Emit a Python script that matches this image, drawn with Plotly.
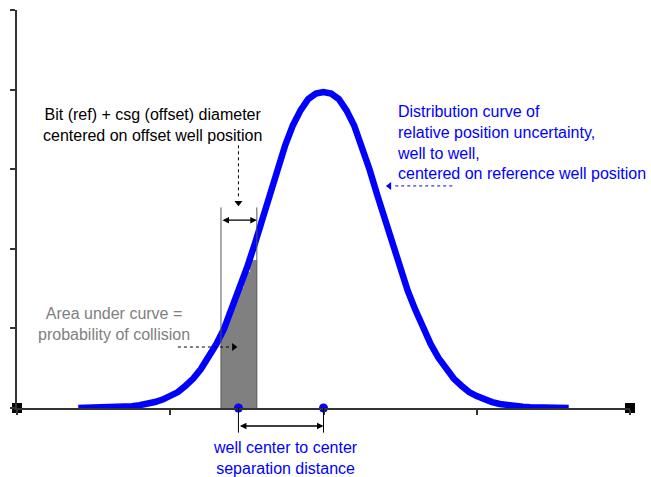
import plotly.graph_objects as go

# ---- data ----
curve_x = [0.40, 0.45, 0.50, 0.55, 0.60, 0.65, 0.70, 0.75, 0.80, 0.85, 0.90, 0.95,
           1.00, 1.05, 1.10, 1.15, 1.20, 1.25, 1.30, 1.35, 1.40, 1.45, 1.50, 1.55,
           1.60, 1.65, 1.70, 1.75, 1.80, 1.85, 1.90, 1.95, 2.00,
           2.05, 2.10, 2.15, 2.20, 2.25, 2.30, 2.35, 2.40, 2.45, 2.50, 2.55, 2.60,
           2.65, 2.70, 2.75, 2.80, 2.85, 2.90, 2.95, 3.00, 3.05, 3.10, 3.15, 3.20,
           3.25, 3.30, 3.35, 3.40, 3.45, 3.50, 3.55, 3.60]
curve_y = [0.0, 0.001, 0.002, 0.004, 0.006, 0.01, 0.015, 0.023, 0.035, 0.051, 0.075, 0.106,
           0.15, 0.20, 0.28, 0.37, 0.49, 0.63, 0.80, 0.99, 1.23, 1.47, 1.76, 2.05,
           2.37, 2.68, 3.00, 3.30, 3.55, 3.74, 3.88, 3.95, 3.97,
           3.95, 3.88, 3.74, 3.55, 3.30, 3.00, 2.68, 2.37, 2.05, 1.76, 1.47, 1.23,
           0.99, 0.80, 0.63, 0.49, 0.37, 0.28, 0.20, 0.15, 0.106, 0.075, 0.051, 0.035,
           0.023, 0.015, 0.01, 0.006, 0.004, 0.002, 0.001, 0.0]

# stepped area under the curve (bar edges and heights)
area_edges = [1.331, 1.368, 1.401, 1.444, 1.477, 1.520, 1.565]
area_heights = [1.02, 1.21, 1.36, 1.51, 1.71, 1.86]

offset_well = 1.445      # offset well centre
reference_well = 2.0     # reference well centre
axis_ends = [0, 4]

Y_MAX = 5.0
BLUE = "#0000FF"
FONT = "Liberation Sans, Arial, sans-serif"

fig = go.Figure()

# shaded area
step_x = area_edges
step_y = area_heights + [area_heights[-1]]
fig.add_trace(go.Scatter(x=step_x, y=step_y, mode="lines", line=dict(width=0, shape="hv"),
                         fill="tozeroy", fillcolor="#808080", hoverinfo="skip", showlegend=False))

# distribution curve
fig.add_trace(go.Scatter(x=curve_x, y=curve_y, mode="lines",
                         line=dict(color=BLUE, width=6.5), showlegend=False))

# well centre dots
fig.add_trace(go.Scatter(x=[offset_well, reference_well], y=[0, 0], mode="markers",
                         marker=dict(color=BLUE, size=9), cliponaxis=False, showlegend=False))

# corner markers
fig.add_trace(go.Scatter(x=axis_ends, y=[0, 0], mode="markers",
                         marker=dict(color="black", size=10, symbol="square"),
                         cliponaxis=False, showlegend=False))

shapes = []
# vertical edges of the diameter band
for xe in (area_edges[0], area_edges[-1]):
    shapes.append(dict(type="line", xref="x", yref="y", x0=xe, x1=xe, y0=0, y1=2.52,
                       line=dict(color="#555555", width=1)))
# vertical lines below dots
for xe in (offset_well, reference_well):
    shapes.append(dict(type="line", xref="x", yref="paper", x0=xe, x1=xe, y0=0, y1=-0.062,
                       line=dict(color="black", width=1)))
# dotted leader lines
shapes.append(dict(type="line", xref="x", yref="y", x0=offset_well, x1=offset_well, y0=3.30, y1=2.62,
                   line=dict(color="black", width=1, dash="dot")))
shapes.append(dict(type="line", xref="x", yref="y", x0=1.05, x1=1.40, y0=0.766, y1=0.766,
                   line=dict(color="black", width=1, dash="dot")))
shapes.append(dict(type="line", xref="x", yref="y", x0=2.84, x1=2.45, y0=2.79, y1=2.79,
                   line=dict(color=BLUE, width=1, dash="dot")))

# arrowheads for the dotted leaders
fig.add_trace(go.Scatter(x=[offset_well], y=[2.58], mode="markers",
                         marker=dict(symbol="triangle-down", color="black", size=7), showlegend=False))
fig.add_trace(go.Scatter(x=[1.415], y=[0.766], mode="markers",
                         marker=dict(symbol="triangle-right", color="black", size=7), showlegend=False))
fig.add_trace(go.Scatter(x=[2.43], y=[2.79], mode="markers",
                         marker=dict(symbol="triangle-left", color=BLUE, size=7), showlegend=False))

annotations = [
    # diameter double arrow
    dict(x=area_edges[-1], y=2.36, ax=area_edges[0], ay=2.36, xref="x", yref="y", axref="x", ayref="y",
         text="", showarrow=True, arrowhead=2, arrowside="end+start", arrowsize=1, arrowwidth=1.3,
         arrowcolor="black", standoff=0, startstandoff=0),
    # separation double arrow (below the axis -> domain y)
    dict(x=reference_well, y=-0.226 / Y_MAX, ax=offset_well, ay=-0.226 / Y_MAX,
         xref="x", yref="y domain", axref="x", ayref="y domain",
         text="", showarrow=True, arrowhead=2, arrowside="end+start", arrowsize=1, arrowwidth=1.3,
         arrowcolor="black", standoff=0, startstandoff=0),
    dict(x=0.881, y=3.56, xref="x", yref="y", showarrow=False, xanchor="center", yanchor="middle",
         align="center", text="Bit (ref) + csg (offset) diameter<br>centered on offset well position",
         font=dict(family=FONT, size=16, color="black")),
    dict(x=2.467, y=3.335, xref="x", yref="y", showarrow=False, xanchor="left", yanchor="middle",
         align="left",
         text="Distribution curve of<br>relative position uncertainty,<br>well to well,<br>centered on reference well position",
         font=dict(family=FONT, size=16, color=BLUE)),
    dict(x=0.633, y=1.06, xref="x", yref="y", showarrow=False, xanchor="center", yanchor="middle",
         align="center", text="Area under curve =<br>probability of collision",
         font=dict(family=FONT, size=16, color="#808080")),
    dict(x=1.752, y=-0.622 / Y_MAX, xref="x", yref="paper", showarrow=False,
         xanchor="center", yanchor="middle",
         align="center", text="well center to center<br>separation distance",
         font=dict(family=FONT, size=16, color=BLUE)),
]

axis_common = dict(showgrid=False, zeroline=False, showline=True, linecolor="#333333", linewidth=2,
                   ticks="outside", ticklen=5, tickwidth=2, tickcolor="#333333",
                   showticklabels=False, dtick=1, fixedrange=True)

fig.update_layout(
    width=651, height=477,
    margin=dict(l=17, r=21, t=10, b=69),
    paper_bgcolor="white", plot_bgcolor="white",
    xaxis=dict(range=[0, 4], **axis_common),
    yaxis=dict(range=[0, Y_MAX], **axis_common),
    shapes=shapes, annotations=annotations, showlegend=False,
)

fig.write_html("out.html", post_script="document.body.style.margin='0';",
               config={"displayModeBar": False})
